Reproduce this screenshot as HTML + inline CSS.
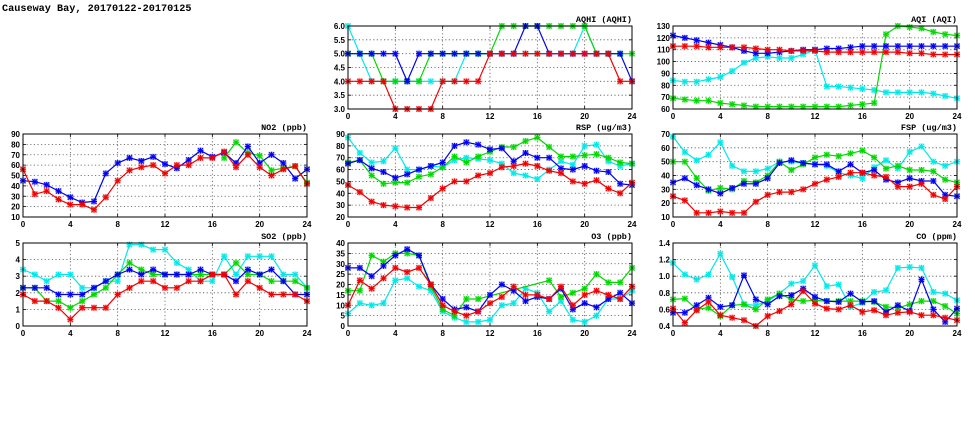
<!DOCTYPE html>
<html><head><meta charset="utf-8">
<style>
html,body{margin:0;padding:0;background:#fff;}
svg{display:block;font-family:"Liberation Sans",sans-serif;}
</style></head>
<body>
<svg id="chart" width="975" height="447" viewBox="0 0 975 447" xmlns="http://www.w3.org/2000/svg">
<text x="2" y="11" font-family="Liberation Mono, monospace" font-weight="bold" font-size="10.2">Causeway Bay, 20170122-20170125</text>
</svg>
<script>
const hours = [0,1,2,3,4,5,6,7,8,9,10,11,12,13,14,15,16,17,18,19,20,21,22,23,24];
const xTicks = [0,4,8,12,16,20,24];

const aqhiCyan = [6,5,4,4,4,4,4,4,4,4,5,5,5,5,5,5,5,5,5,5,6,5,5,5,null];
const aqhiGreen = [5,5,5,4,4,4,4,5,5,5,5,5,5,6,6,6,6,6,6,6,6,5,5,5,5];
const aqhiBlue = [5,5,5,5,5,4,5,5,5,5,5,5,5,5,5,6,6,5,5,5,5,5,5,5,4];
const aqhiRed = [4,4,4,4,3,3,3,3,4,4,4,4,5,5,5,5,5,5,5,5,5,5,5,4,4];
const aqhiTicks = [3.0,3.5,4.0,4.5,5.0,5.5,6.0];

const aqiCyan = [84,83,83,85,87,92,99,103,104,103,103,106,110,79,79,78,77,76,74,74,74,74,73,71,69];
const aqiGreen = [69,68,67,67,65,64,63,62,62,62,62,62,62,62,62,63,64,65,123,130,129,128,125,123,122];
const aqiBlue = [122,120,118,116,114,112,109,107,107,108,109,110,110,111,111,112,113,113,113,113,113,113,113,113,113];
const aqiRed = [113,113,113,112,112,112,112,111,110,110,109,109,109,108,108,108,108,108,108,108,107,107,106,106,106];
const aqiTicks = [60,70,80,90,100,110,120,130];

const no2Cyan = [null,null,null,null,null,null,null,null,null,null,null,null,null,null,null,null,null,null,null,null,null,null,null,null,null];
const no2Green = [null,null,null,null,null,null,null,null,null,null,null,null,null,null,null,null,null,67,82,72,69,55,57,59,43];
const no2Blue = [45,44,41,35,29,24,25,52,62,67,64,68,61,57,65,74,68,72,62,78,62,70,62,47,56];
const no2Red = [56,32,35,27,22,22,17,29,45,55,58,60,52,60,60,67,67,73,58,70,58,50,56,59,42];
const no2Ticks = [10,20,30,40,50,60,70,80,90];

const rspCyan = [87,74,66,67,78,60,60,63,62,68,70,69,68,65,57,55,52,60,67,64,80,81,67,63,65];
const rspGreen = [66,68,55,48,49,49,54,56,62,71,66,71,75,79,79,84,87,79,71,71,72,73,70,66,65];
const rspBlue = [65,68,61,58,53,56,60,63,66,80,83,81,77,78,67,74,70,70,61,60,63,59,58,48,47];
const rspRed = [47,41,33,30,29,28,28,36,44,50,50,55,57,62,63,65,63,59,57,50,48,51,44,40,49];
const rspTicks = [20,30,40,50,60,70,80,90];

const fspCyan = [68,57,51,55,64,47,43,43,45,50,50,49,48,47,42,40,38,46,51,45,57,61,50,47,50];
const fspGreen = [50,50,38,29,31,30,36,35,40,50,44,48,53,55,54,56,58,53,45,47,44,44,43,37,35];
const fspBlue = [35,38,33,30,27,31,34,34,38,49,51,49,48,48,43,48,42,44,37,35,38,36,36,26,25];
const fspRed = [25,22,13,13,14,13,13,21,26,28,28,30,34,37,39,42,42,40,39,32,32,34,26,23,32];
const fspTicks = [10,20,30,40,50,60,70];

const so2Cyan = [3.4,3.1,2.7,3.1,3.1,2.3,2.3,2.7,2.7,4.9,4.9,4.6,4.6,3.8,3.4,2.7,2.7,4.2,3.1,4.2,4.2,4.2,3.1,3.1,2.3];
const so2Green = [2.3,2.3,1.5,1.5,1.1,1.5,1.9,2.3,3.1,3.8,3.4,3.1,3.1,3.1,3.1,3.1,3.1,3.1,3.8,3.1,3.1,2.7,2.7,2.7,2.3];
const so2Blue = [2.3,2.3,2.3,1.9,1.9,1.9,2.3,2.7,3.1,3.4,3.1,3.4,3.1,3.1,3.1,3.4,3.1,3.1,2.7,3.4,3.1,3.4,2.7,1.9,1.9];
const so2Red = [1.9,1.5,1.5,1.1,0.4,1.1,1.1,1.1,1.9,2.3,2.7,2.7,2.3,2.3,2.7,2.7,3.1,3.1,1.9,2.7,2.3,1.9,1.9,1.9,1.5];
const so2Ticks = [0,1,2,3,4,5];

const o3Cyan = [6,11,10,11,22,23,19,17,7,4,2,2,3,10,11,18,16,7,12,3,2,5,13,13,17];
const o3Green = [17,17,34,31,35,35,34,19,8,5,13,13,null,null,null,null,null,22,14,16,18,25,21,21,28];
const o3Blue = [28,28,24,29,34,37,34,20,13,8,9,7,15,20,17,12,14,13,18,8,11,9,13,16,11];
const o3Red = [10,22,18,23,28,26,28,20,10,7,5,7,11,14,19,15,15,13,19,10,15,17,15,13,19];
const o3Ticks = [0,5,10,15,20,25,30,35,40];

const coCyan = [1.16,1.02,0.96,1.02,1.27,0.99,0.66,0.65,0.7,0.79,0.91,0.94,1.13,0.88,0.9,0.63,0.68,0.81,0.83,1.1,1.11,1.1,0.81,0.79,0.71];
const coGreen = [0.72,0.73,0.6,0.62,0.52,0.65,0.66,0.6,0.72,0.79,0.72,0.7,0.71,0.7,0.7,0.7,0.7,0.69,0.63,0.62,0.66,0.7,0.7,0.64,0.55];
const coBlue = [0.56,0.56,0.65,0.74,0.63,0.65,1.01,0.72,0.66,0.76,0.77,0.85,0.75,0.7,0.69,0.79,0.69,0.7,0.57,0.65,0.58,0.96,0.6,0.45,0.61];
const coRed = [0.61,0.44,0.59,0.69,0.53,0.5,0.47,0.4,0.52,0.58,0.66,0.82,0.67,0.61,0.6,0.65,0.57,0.59,0.53,0.56,0.57,0.53,0.53,0.5,0.47];
const coTicks = [0.4,0.6,0.8,1.0,1.2,1.4];

const NS = "http://www.w3.org/2000/svg";
const svg = document.getElementById('chart');
const COLORS = ['#00e8e8','#00d800','#0000f0','#f00000'];
const SNAMES = ['cyan','green','blue','red'];

function mk(tag, attrs, parent){
  const e = document.createElementNS(NS, tag);
  for (const k in attrs) e.setAttribute(k, attrs[k]);
  (parent||svg).appendChild(e);
  return e;
}

function panel(key, title, x0, x1, y0, y1, ticks, dec, series){
  const g = mk('g', {});
  
  
  const lo = ticks[0], hi = ticks[ticks.length-1];
  const X = h => x0 + (h/24)*(x1-x0);
  const Y = v => y1 - (v-lo)/(hi-lo)*(y1-y0);
  // grid
  ticks.forEach(t => {
    if (t===lo || t===hi) return;
    const l = mk('line', {x1:x0, x2:x1, y1:Y(t), y2:Y(t), stroke:'#555', 'stroke-width':0.8, 'stroke-dasharray':'1.2,2.4'}, g);
    
    
  });
  xTicks.forEach(t => {
    if (t===0 || t===24) return;
    const l = mk('line', {x1:X(t), x2:X(t), y1:y0, y2:y1, stroke:'#555', 'stroke-width':0.8, 'stroke-dasharray':'1.2,2.4'}, g);
    
    
  });
  // tick labels
  ticks.forEach(t => {
    const tx = mk('text', {x:x0-3, y:Y(t)+3, 'text-anchor':'end', 'font-size':8, 'font-weight':'bold'}, g);
    tx.textContent = t.toFixed(dec);
    
    
    mk('line', {x1:x0, x2:x0+3, y1:Y(t), y2:Y(t), stroke:'#000', 'stroke-width':0.8}, g);
    mk('line', {x1:x1-3, x2:x1, y1:Y(t), y2:Y(t), stroke:'#000', 'stroke-width':0.8}, g);
  });
  xTicks.forEach(t => {
    const tx = mk('text', {x:X(t), y:y1+10, 'text-anchor':'middle', 'font-size':8, 'font-weight':'bold'}, g);
    tx.textContent = t;
    
    
    mk('line', {x1:X(t), x2:X(t), y1:y1, y2:y1-3, stroke:'#000', 'stroke-width':0.8}, g);
    mk('line', {x1:X(t), x2:X(t), y1:y0, y2:y0+3, stroke:'#000', 'stroke-width':0.8}, g);
  });
  // series
  series.forEach((vals, si) => {
    const col = COLORS[si];
    const sg = mk('g', {}, g);
    
    
    let d = '';
    hours.forEach((h, i) => {
      const v = vals[i];
      if (v === null || v === undefined) return;
      d += (d ? 'L' : 'M') + X(h).toFixed(1) + ',' + Y(v).toFixed(1);
    });
    if (d) {
      const p = mk('path', {d:d, fill:'none', stroke:col, 'stroke-width':1.2}, sg);
      
      
    }
    hours.forEach((h, i) => {
      const v = vals[i];
      if (v === null || v === undefined) return;
      const cx = X(h), cy = Y(v);
      const m = mk('g', {}, sg);
      
      
      mk('rect', {x:cx-3, y:cy-3, width:6, height:6, fill:col, opacity:0.35}, m);
      mk('path', {d:`M${cx-2.5},${cy-2.5}L${cx+2.5},${cy+2.5}M${cx-2.5},${cy+2.5}L${cx+2.5},${cy-2.5}M${cx-3},${cy}L${cx+3},${cy}M${cx},${cy-3}L${cx},${cy+3}`, stroke:col, 'stroke-width':1}, m);
    });
  });
  // border
  const b = mk('rect', {x:x0, y:y0, width:x1-x0, height:y1-y0, fill:'none', stroke:'#000', 'stroke-width':1}, g);
  
  
  const tt = mk('text', {x:x1, y:y0-4, 'text-anchor':'end', 'font-size':8.5, 'font-weight':'bold', 'font-family':'Liberation Mono, monospace'}, g);
  tt.textContent = title;
  
  
}

const C1 = [23, 307], C2 = [348, 632], C3 = [673, 957];
const R1 = [26, 109], R2 = [134, 217], R3 = [243, 326];
panel('aqhi', 'AQHI (AQHI)', C2[0], C2[1], R1[0], R1[1], aqhiTicks, 1, [aqhiCyan, aqhiGreen, aqhiBlue, aqhiRed]);
panel('aqi', 'AQI (AQI)', C3[0], C3[1], R1[0], R1[1], aqiTicks, 0, [aqiCyan, aqiGreen, aqiBlue, aqiRed]);
panel('no2', 'NO2 (ppb)', C1[0], C1[1], R2[0], R2[1], no2Ticks, 0, [no2Cyan, no2Green, no2Blue, no2Red]);
panel('rsp', 'RSP (ug/m3)', C2[0], C2[1], R2[0], R2[1], rspTicks, 0, [rspCyan, rspGreen, rspBlue, rspRed]);
panel('fsp', 'FSP (ug/m3)', C3[0], C3[1], R2[0], R2[1], fspTicks, 0, [fspCyan, fspGreen, fspBlue, fspRed]);
panel('so2', 'SO2 (ppb)', C1[0], C1[1], R3[0], R3[1], so2Ticks, 0, [so2Cyan, so2Green, so2Blue, so2Red]);
panel('o3', 'O3 (ppb)', C2[0], C2[1], R3[0], R3[1], o3Ticks, 0, [o3Cyan, o3Green, o3Blue, o3Red]);
panel('co', 'CO (ppm)', C3[0], C3[1], R3[0], R3[1], coTicks, 1, [coCyan, coGreen, coBlue, coRed]);
</script>
</body></html>
